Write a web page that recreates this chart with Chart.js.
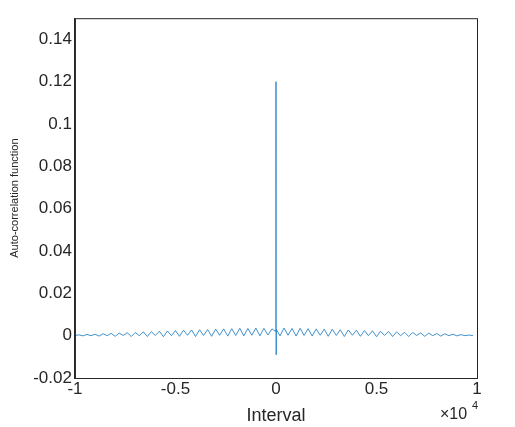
<!DOCTYPE html>
<html><head><meta charset="utf-8">
<script src="https://cdn.jsdelivr.net/npm/chart.js@4"></script>
<style>body{margin:0;background:#fff}</style>
</head><body><canvas id="c" width="515" height="427"></canvas>
<script>
const lagX = [-1,-0.98,-0.96,-0.94,-0.92,-0.9,-0.88,-0.86,-0.84,-0.82,-0.8,-0.78,-0.76,-0.74,-0.72,-0.7,-0.68,-0.66,-0.64,-0.62,-0.6,-0.58,-0.56,-0.54,-0.52,-0.5,-0.48,-0.46,-0.44,-0.42,-0.4,-0.38,-0.36,-0.34,-0.32,-0.3,-0.28,-0.26,-0.24,-0.22,-0.2,-0.18,-0.16,-0.14,-0.12,-0.1,-0.08,-0.06,-0.04,-0.02,-0.001,0,0.0004,0.002,0.02,0.04,0.06,0.08,0.1,0.12,0.14,0.16,0.18,0.2,0.22,0.24,0.26,0.28,0.3,0.32,0.34,0.36,0.38,0.4,0.42,0.44,0.46,0.48,0.5,0.52,0.54,0.56,0.58,0.6,0.62,0.64,0.66,0.68,0.7,0.72,0.74,0.76,0.78,0.8,0.82,0.84,0.86,0.88,0.9,0.92,0.94,0.96,0.98,1];
const acf = [0,0.0004,-0.0001,0.0006,0,0.0007,-0.0002,0.0009,0,0.0011,-0.0003,0.0012,0.0001,0.0014,-0.0004,0.0015,0,0.0018,-0.0004,0.0019,0.0001,0.0021,-0.0005,0.0022,0,0.0024,-0.0003,0.0026,0.0002,0.0027,-0.0004,0.0028,0.0001,0.0029,-0.0003,0.0031,0.0002,0.0032,-0.0002,0.0033,0.0001,0.0035,-0.0001,0.0034,0.0002,0.0036,-0.0001,0.0035,0.0003,0.0032,0.002,0.12,-0.009,0.003,-0.0001,0.0036,0.0002,0.0034,-0.0002,0.0035,0.0001,0.0033,-0.0002,0.0032,0.0002,0.0031,-0.0003,0.003,0.0001,0.0028,-0.0004,0.0027,0.0002,0.0026,-0.0003,0.0024,0,0.0023,-0.0005,0.0021,0.0001,0.002,-0.0004,0.0018,0,0.0016,-0.0004,0.0015,0.0001,0.0013,-0.0003,0.0012,0,0.001,-0.0002,0.0009,0,0.0007,-0.0001,0.0005,0,0.0003,0];
const xTicks = [-1,-0.5,0,0.5,1];
const yTicks = [-0.02,0,0.02,0.04,0.06,0.08,0.1,0.12,0.14];
const boxPlugin = {id:'box',afterDraw(ch){const a=ch.chartArea,c=ch.ctx;c.save();c.strokeStyle='#262626';c.lineWidth=1;c.strokeRect(a.left+0.5,a.top+0.5,a.right-a.left,a.bottom-a.top);
c.fillStyle='#262626';c.font='16px "Liberation Sans"';c.textAlign='left';c.fillText('×10',440,419);c.font='11px "Liberation Sans"';c.fillText('4',472,409);c.restore();}};
new Chart(document.getElementById('c'),{type:'line',
data:{datasets:[{data:lagX.map((x,i)=>({x,y:acf[i]})),borderColor:'#2a86c8',borderWidth:0.9,pointRadius:0,tension:0}]},
options:{responsive:false,animation:false,events:[],layout:{padding:{left:4,right:38,top:10,bottom:0}},
plugins:{legend:{display:false},tooltip:{enabled:false}},
scales:{x:{type:'linear',min:-1,max:1,afterBuildTicks:s=>{s.ticks=xTicks.map(v=>({value:v}))},
ticks:{color:'#262626',font:{size:17,family:'Liberation Sans'},maxRotation:0,padding:6,callback:v=>String(v)},
grid:{display:false,drawTicks:true,tickLength:-5,color:'#262626'},border:{color:'#262626'},
title:{display:true,text:'Interval',color:'#262626',font:{size:18,family:'Liberation Sans'},padding:{top:0,bottom:0}}},
y:{min:-0.02,max:0.15,afterBuildTicks:s=>{s.ticks=yTicks.map(v=>({value:v}))},
ticks:{color:'#262626',font:{size:17,family:'Liberation Sans'},callback:v=>String(Math.round(v*100)/100),padding:8},
grid:{display:false,tickLength:-5},border:{color:'#262626'},
title:{display:true,text:'Auto-correlation function',color:'#262626',font:{size:11,family:'Liberation Sans'}}}}},
plugins:[boxPlugin]});
</script></body></html>
